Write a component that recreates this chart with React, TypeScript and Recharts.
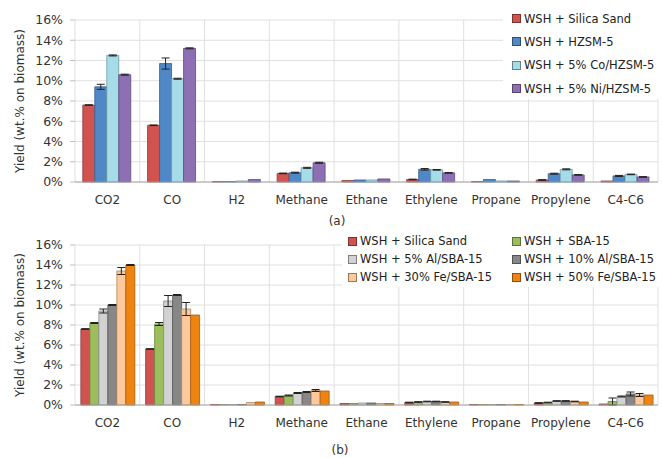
import React from 'react';
import { BarChart, Bar, XAxis, YAxis, CartesianGrid, Legend, ErrorBar } from 'recharts';

const categories = ['CO2', 'CO', 'H2', 'Methane', 'Ethane', 'Ethylene', 'Propane', 'Propylene', 'C4-C6'];
const yTicks = [0, 2, 4, 6, 8, 10, 12, 14, 16];
const edgeTicks = [0, 1, 2, 3, 4, 5, 6, 7, 8, 9];

// panel (a): yields in wt.% on biomass
const silicaSandA = [7.6, 5.6, 0.05, 0.85, 0.15, 0.25, 0.05, 0.2, 0.1];
const hzsm5 = [9.4, 11.7, 0.05, 0.92, 0.2, 1.25, 0.25, 0.82, 0.6];
const coHzsm5 = [12.5, 10.2, 0.1, 1.4, 0.2, 1.2, 0.1, 1.25, 0.75];
const niHzsm5 = [10.6, 13.2, 0.25, 1.9, 0.3, 0.9, 0.1, 0.7, 0.5];

const silicaSandErrA = [0.03, 0.03, 0, 0.03, 0, 0.03, 0, 0.03, 0];
const hzsm5Err = [0.25, 0.55, 0, 0.05, 0, 0.08, 0, 0.05, 0.05];
const coHzsm5Err = [0.05, 0.05, 0, 0.05, 0, 0.03, 0, 0.05, 0.03];
const niHzsm5Err = [0.05, 0.05, 0, 0.05, 0, 0.03, 0, 0.03, 0.03];

// panel (b)
const silicaSandB = [7.6, 5.6, 0.05, 0.85, 0.15, 0.25, 0.05, 0.2, 0.1];
const sba15 = [8.2, 8.1, 0.05, 0.95, 0.15, 0.3, 0.05, 0.25, 0.35];
const al5Sba15 = [9.4, 10.4, 0.05, 1.2, 0.2, 0.35, 0.05, 0.4, 0.85];
const al10Sba15 = [10.0, 11.0, 0.05, 1.3, 0.2, 0.35, 0.05, 0.4, 1.1];
const fe30Sba15 = [13.4, 9.6, 0.25, 1.45, 0.15, 0.3, 0.05, 0.35, 1.0];
const fe50Sba15 = [14.0, 9.0, 0.3, 1.4, 0.15, 0.3, 0.05, 0.3, 1.0];

const silicaSandErrB = [0.03, 0.03, 0, 0.03, 0, 0.03, 0, 0.03, 0];
const sba15Err = [0.05, 0.15, 0, 0.05, 0, 0.03, 0, 0.03, 0.35];
const al5Sba15Err = [0.2, 0.55, 0, 0.05, 0, 0.03, 0, 0.03, 0.05];
const al10Sba15Err = [0.05, 0.05, 0, 0.05, 0, 0.03, 0, 0.03, 0.2];
const fe30Sba15Err = [0.35, 0.65, 0, 0.1, 0, 0.03, 0, 0.03, 0.15];
const fe50Sba15Err = [0.05, 0, 0, 0, 0, 0, 0, 0, 0];

const FONT = '"DejaVu Sans", Verdana, sans-serif';

type Series = { name: string; values: number[]; errors: number[]; fill: string; stroke: string };

const seriesA: Series[] = [
  { name: 'WSH + Silica Sand', values: silicaSandA, errors: silicaSandErrA, fill: '#d0534f', stroke: '#8e3f3c' },
  { name: 'WSH + HZSM-5', values: hzsm5, errors: hzsm5Err, fill: '#4f87c7', stroke: '#38618f' },
  { name: 'WSH + 5% Co/HZSM-5', values: coHzsm5, errors: coHzsm5Err, fill: '#a6dbe8', stroke: '#6b9aa6' },
  { name: 'WSH + 5% Ni/HZSM-5', values: niHzsm5, errors: niHzsm5Err, fill: '#8d70b3', stroke: '#5f4c7d' },
];

const seriesB: Series[] = [
  { name: 'WSH + Silica Sand', values: silicaSandB, errors: silicaSandErrB, fill: '#d0534f', stroke: '#8e3f3c' },
  { name: 'WSH + SBA-15', values: sba15, errors: sba15Err, fill: '#9cbd5c', stroke: '#6b8540' },
  { name: 'WSH + 5% Al/SBA-15', values: al5Sba15, errors: al5Sba15Err, fill: '#d2d2d2', stroke: '#8a8a8a' },
  { name: 'WSH + 10% Al/SBA-15', values: al10Sba15, errors: al10Sba15Err, fill: '#878787', stroke: '#555555' },
  { name: 'WSH + 30% Fe/SBA-15', values: fe30Sba15, errors: fe30Sba15Err, fill: '#fcc89c', stroke: '#b08760' },
  { name: 'WSH + 50% Fe/SBA-15', values: fe50Sba15, errors: fe50Sba15Err, fill: '#ef8310', stroke: '#a65a0b' },
];

const buildRows = (series: Series[]) =>
  categories.map((name, i) => {
    const row: Record<string, number | string> = { name };
    series.forEach((s, k) => {
      row[`v${k}`] = s.values[i];
      row[`e${k}`] = s.errors[i];
    });
    return row;
  });

// vertical grid lines sit between categories, not on them
const gridColumns = ({ offset }: any) =>
  Array.from({ length: categories.length + 1 }, (_, i) => offset.left + (offset.width * i) / categories.length);

interface PanelProps {
  series: Series[];
  top: number;
  height: number;
  gap: string;
  legendStyle: React.CSSProperties;
  columns: number;
  rowHeight: number;
  colWidth: number;
}

const Panel: React.FC<PanelProps> = ({ series, top, height, gap, legendStyle, columns, rowHeight, colWidth }) => {
  const rows = buildRows(series);
  // legend rows follow the series order (recharts hands the payload back reversed)
  const renderLegend = () => (
    <div style={{ display: 'grid', gridTemplateColumns: `repeat(${columns}, ${colWidth}px)` }}>
      {series.map((s) => (
        <div key={s.name} style={{ height: rowHeight, display: 'flex', alignItems: 'center', whiteSpace: 'nowrap' }}>
          <span
            style={{
              display: 'inline-block',
              width: 7,
              height: 7,
              background: s.fill,
              border: '1px solid rgba(0,0,0,0.4)',
              marginRight: 3,
            }}
          />
          <span>{s.name}</span>
        </div>
      ))}
    </div>
  );

  return (
    <div style={{ position: 'absolute', left: 0, top, width: 663, height }}>
      <BarChart
        width={663}
        height={height}
        data={rows}
        margin={{ top: 20, right: 5, left: 20, bottom: 0 }}
        barGap={0}
        barCategoryGap={gap}
      >
        <CartesianGrid stroke="#e0e0e0" verticalCoordinatesGenerator={gridColumns} />
        {/* small tick marks under the axis at the category edges */}
        <XAxis
          xAxisId="edges"
          type="number"
          domain={[0, 9]}
          ticks={edgeTicks}
          interval={0}
          allowDataOverflow
          height={0}
          tick={false}
          tickSize={4}
          tickLine={{ stroke: '#bfbfbf' }}
          axisLine={false}
        />
        <XAxis
          dataKey="name"
          height={51}
          interval={0}
          tickLine={false}
          tickSize={0}
          tickMargin={13}
          axisLine={{ stroke: '#a6a6a6' }}
          tick={{ fill: '#333', fontSize: 12, fontFamily: FONT }}
        />
        <YAxis
          domain={[0, 16]}
          ticks={yTicks}
          interval={0}
          width={55}
          axisLine={false}
          tickLine={{ stroke: '#bfbfbf' }}
          tickSize={5}
          tickMargin={7}
          tickFormatter={(v) => `${v}%`}
          tick={{ fill: '#333', fontSize: 12.5, fontFamily: FONT }}
          label={{
            value: 'Yield (wt.% on biomass)',
            angle: -90,
            position: 'insideLeft',
            offset: 0,
            style: { textAnchor: 'middle', fill: '#333', fontSize: 12, fontFamily: FONT },
          }}
        />
        <Legend
          layout="vertical"
          align="center"
          verticalAlign="middle"
          content={renderLegend}
          wrapperStyle={{
            background: '#fff',
            boxSizing: 'border-box',
            fontFamily: FONT,
            fontSize: 11.5,
            color: '#222',
            ...legendStyle,
          }}
        />
        {series.map((s, k) => (
          <Bar
            key={s.name}
            dataKey={`v${k}`}
            name={s.name}
            fill={s.fill}
            stroke={s.stroke}
            strokeWidth={0.8}
            isAnimationActive={false}
          >
            <ErrorBar dataKey={`e${k}`} width={4} stroke="#222" strokeWidth={1} direction="y" />
          </Bar>
        ))}
      </BarChart>
    </div>
  );
};

const captionStyle: React.CSSProperties = {
  position: 'absolute',
  width: 40,
  textAlign: 'center',
  fontFamily: FONT,
  fontSize: 12,
  color: '#333',
  lineHeight: '14px',
};

export default function App() {
  return (
    <div style={{ position: 'absolute', left: 0, top: 0, width: 663, height: 458, background: '#fff', overflow: 'hidden' }}>
      <Panel
        series={seriesA}
        top={0}
        height={233}
        gap="12%"
        columns={1}
        rowHeight={23.3}
        colWidth={150}
        legendStyle={{ left: 503, top: 0, width: 160, height: 99, paddingTop: 7, paddingLeft: 9 }}
      />
      <Panel
        series={seriesB}
        top={225}
        height={231}
        gap="9%"
        columns={2}
        rowHeight={18}
        colWidth={164}
        legendStyle={{ left: 342, top: 5, width: 321, height: 57, paddingTop: 2, paddingLeft: 6 }}
      />
      <div style={{ ...captionStyle, left: 317, top: 214 }}>(a)</div>
      <div style={{ ...captionStyle, left: 320, top: 443 }}>(b)</div>
    </div>
  );
}
